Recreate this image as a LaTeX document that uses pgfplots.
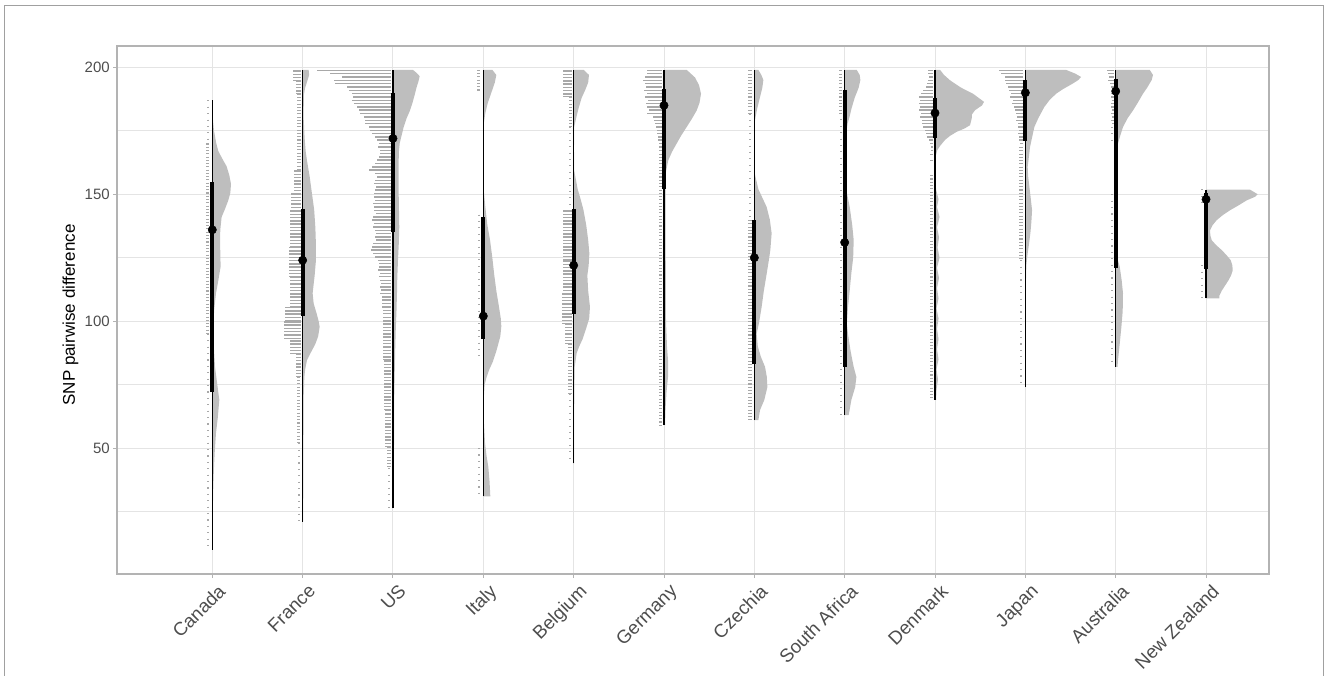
\documentclass[border=0pt]{standalone}
\usepackage{fontspec}
\setmainfont{Liberation Sans}
\usepackage{pgfplots}
\pgfplotsset{compat=1.18}
\usepackage{pgfplotstable}

\definecolor{vcol}{HTML}{BEBEBE}
\definecolor{dotcol}{HTML}{A8A8A8}
\definecolor{gridcol}{HTML}{E4E4E4}
\definecolor{bordercol}{HTML}{B3B3B3}
\definecolor{txtcol}{HTML}{4D4D4D}
\definecolor{framecol}{HTML}{A0A0A0}

\tikzset{dotdense/.style={dash pattern=on 1.1pt off 1.35pt},
         dotmed/.style={dash pattern=on 0.8pt off 1.65pt},
         dotsparse/.style={dash pattern=on 0.8pt off 4pt}}

% violin: y, half-width in px
\newcommand{\violin}[2]{\addplot[fill=vcol, draw=none, forget plot] table[x expr={#1+\thisrow{w}/90.34}, y=y] {#2};}
% dot lines: y, left end in px
\newcommand{\dotlines}[2]{\addplot[dotcol, line width=1.1pt, no marks, forget plot, quiver={u={-(\thisrow{b}-2)/90.34}, v=0}] table[x expr={#1-2/90.34}, y=y] {#2};}
% band of dots: pos, ytop, ybot, a(px), b(px), style
\newcommand{\band}[6]{\addplot[dotcol, no marks, forget plot, line width={(#5-#4)*0.75pt}, #6] table[x expr={#1-(#4+#5)/180.68}, y=y, row sep=\\] {y\\ #2\\ #3\\};}
% interval: pos, min, lo, med, hi, max
\newcommand{\interval}[6]{%
\addplot[black, line width=1pt, no marks, forget plot] coordinates {(#1,#2) (#1,#6)};
\addplot[black, line width=3pt, no marks, forget plot] coordinates {(#1,#3) (#1,#5)};
\addplot[black, only marks, mark=*, mark size=3.1pt, forget plot] coordinates {(#1,#4)};}

% ---------------- violins (y, width px) ----------------
\pgfplotstableread[row sep=\\]{y w\\
187 0\\ 180 0.5\\ 175 1.7\\ 170 4\\ 167 6\\ 164 10\\ 161 14.3\\ 157.5 17\\ 154 18.7\\ 150.5 18\\ 147.6 16\\ 144 12.5\\ 141 9.3\\ 136 8\\ 132 7.7\\ 127 8\\ 121.4 8.3\\ 116 6\\ 111 3.7\\ 105 2\\ 99 1\\ 90 1.5\\ 82 2.7\\ 75 5\\ 69 7\\ 62 5.5\\ 56 3.7\\ 49 2.5\\ 42.6 1.7\\ 35 1\\ 29.5 0.7\\ 20 0.3\\ 10 0\\
}\vCanada
\pgfplotstableread[row sep=\\]{y w\\
199 0\\ 199 6\\ 197 6.5\\ 195 5\\ 192 2.5\\ 189 1.2\\ 180 1\\ 172 2\\ 167 3\\ 163.4 4.3\\ 157 7\\ 150.3 9.3\\ 144 11.5\\ 137 12.7\\ 130 13.3\\ 124 13.3\\ 118 12\\ 111 10\\ 107 11\\ 103 14\\ 100 16\\ 97.8 17\\ 94 15.5\\ 91 12.7\\ 87.5 8\\ 84.6 4.3\\ 81 2.5\\ 78 1.7\\ 70 1\\ 50 0.8\\ 30 0.6\\ 21 0.5\\ 21 0\\
}\vFrance
\pgfplotstableread[row sep=\\]{y w\\
199 0\\ 199 20\\ 198 23\\ 196.5 26.7\\ 194.5 25.5\\ 192 23.5\\ 189.6 22\\ 186 19.5\\ 183 17\\ 179.8 13.5\\ 176.5 10.7\\ 173 8.5\\ 170 6.7\\ 167 6\\ 163.4 5.7\\ 157 5.7\\ 150.3 5.7\\ 143.7 6\\ 137 6.3\\ 130.5 5.8\\ 124 5\\ 117 4.3\\ 111 4\\ 104 3.5\\ 97 2.8\\ 90 2.3\\ 84.6 2\\ 70 1.2\\ 50 1\\ 35 0.8\\ 26.4 0.6\\ 26.4 0\\
}\vUS
\pgfplotstableread[row sep=\\]{y w\\
199 0\\ 199 9\\ 197 13\\ 194 11.5\\ 190 8\\ 186 4.5\\ 182 2\\ 178 0.5\\ 170 0.2\\ 152 0.3\\ 145 2\\ 138 4\\ 132 6.7\\ 125 9\\ 118 11\\ 112 13\\ 106 15.5\\ 101 17.5\\ 98 18\\ 94 17\\ 88.6 13.3\\ 84 9.5\\ 81 6\\ 78 3.3\\ 75 1.3\\ 70 0.5\\ 60 0.6\\ 52 1.7\\ 47 3.2\\ 42.6 5\\ 37 6.2\\ 31 7\\ 31 0\\
}\vItaly
\pgfplotstableread[row sep=\\]{y w\\
199 0\\ 199 10\\ 197 15.3\\ 194 14.5\\ 191 11.5\\ 188 8\\ 184 5\\ 180 2.5\\ 176.5 0.5\\ 168 0.3\\ 159.4 0.5\\ 152 4\\ 148 7\\ 144 9.7\\ 138 12.5\\ 132 14.5\\ 126.7 15.7\\ 122 15\\ 118 13.7\\ 112 14.5\\ 105.6 16.3\\ 101 15.5\\ 97.8 13\\ 93 9\\ 90 5.5\\ 87.4 3\\ 82 1\\ 70 0.6\\ 55 0.5\\ 44 0.4\\ 44 0\\
}\vBelgium
\pgfplotstableread[row sep=\\]{y w\\
199 0\\ 199 22.7\\ 196 31\\ 193 35\\ 189.6 37\\ 186 35.5\\ 183 32.7\\ 179.8 28\\ 176.5 22.7\\ 173 17\\ 170 12.7\\ 166.7 8\\ 163.4 4.3\\ 159 2\\ 155 1.5\\ 140 1.5\\ 120 1.8\\ 100 2\\ 90 3\\ 84.6 4\\ 78 4\\ 72 2.5\\ 65 1.5\\ 59 1\\ 59 0\\
}\vGermany
\pgfplotstableread[row sep=\\]{y w\\
199 0\\ 199 4\\ 197 7\\ 195 9\\ 192 8\\ 188 5.5\\ 184 3\\ 180 1\\ 178 0.3\\ 165 0.2\\ 158 0.5\\ 152 4\\ 145 12.3\\ 140 15.5\\ 134.6 17.3\\ 128 16\\ 124 14.5\\ 118.6 12.3\\ 112 9.5\\ 105.6 7.3\\ 99 4.5\\ 95 2.3\\ 90 3.5\\ 86 6.5\\ 82 10.7\\ 78 12.5\\ 74 13\\ 69 10\\ 65 5.7\\ 61 4\\ 61 0\\
}\vCzechia
\pgfplotstableread[row sep=\\]{y w\\
199 0\\ 199 12\\ 197 15\\ 195 15.7\\ 192 14\\ 188 10\\ 184 7\\ 180 4.5\\ 178 3\\ 174 1.5\\ 171 0.5\\ 160 0.3\\ 152 1.5\\ 145 5\\ 138 7.5\\ 132 9\\ 125 8.5\\ 119 6.7\\ 112 5\\ 105.6 3.3\\ 99 2.2\\ 95 3.3\\ 88 6\\ 82 9\\ 78 11.7\\ 74 10.5\\ 69 6.7\\ 63 4\\ 63 0\\
}\vSouthAfrica
\pgfplotstableread[row sep=\\]{y w\\
199 0\\ 199 5\\ 197 9\\ 194.9 15\\ 192 26\\ 189.6 38\\ 186.4 49\\ 185 47\\ 183.1 40\\ 181.5 37\\ 179.8 36.7\\ 177.2 35\\ 176 30\\ 174.6 21.7\\ 173 15\\ 171.4 10\\ 169 5\\ 167.4 2.3\\ 164.8 0.5\\ 160 0.3\\ 152 1\\ 148 3.5\\ 145 2\\ 141 4.5\\ 137 2\\ 133 4\\ 129 2.5\\ 125 4.5\\ 121 2\\ 117 4\\ 113 2\\ 109 3.5\\ 105 1.5\\ 101 3.5\\ 97 2\\ 93 3.5\\ 89 2\\ 85 3.5\\ 81 1.5\\ 77 3\\ 73 1.5\\ 69 1\\ 69 0\\
}\vDenmark
\pgfplotstableread[row sep=\\]{y w\\
199 0\\ 199 40.7\\ 197.5 50\\ 196.2 55.7\\ 195 53\\ 193.5 47\\ 191.5 38\\ 189.6 30.7\\ 187 24\\ 184.4 19\\ 180 13\\ 176.5 9\\ 172 6.5\\ 168.7 4.7\\ 164 3.3\\ 160.8 2.3\\ 157 2.8\\ 153 4\\ 148 5.5\\ 143.7 6.7\\ 139 6\\ 134.6 5\\ 130 3.5\\ 126.7 2.3\\ 122 1\\ 115 0.5\\ 100 0.4\\ 85 0.3\\ 74 0.3\\ 74 0\\
}\vJapan
\pgfplotstableread[row sep=\\]{y w\\
199 0\\ 199 34\\ 197 37.3\\ 195 36\\ 192 31.5\\ 189.6 27.3\\ 186 22\\ 183 17.3\\ 180 12\\ 176.5 7.3\\ 173 4.5\\ 170 2.3\\ 166 0.8\\ 163.4 0.3\\ 130 0.3\\ 125 1.5\\ 121.5 4\\ 116 6\\ 111 7.3\\ 104 7\\ 97.8 5.7\\ 91 4\\ 84.6 2.3\\ 82 1.8\\ 82 0\\
}\vAustralia
\pgfplotstableread[row sep=\\]{y w\\
151.8 0\\ 151.8 44\\ 150 51.7\\ 149 49\\ 147.6 40.7\\ 145.5 32\\ 143.7 24\\ 141.7 16.5\\ 139.8 10.7\\ 137.8 6.5\\ 135.8 4\\ 133.8 4.3\\ 131.9 5.7\\ 130 10\\ 128 15.7\\ 126 20.5\\ 124 24.7\\ 122 26.3\\ 120 26.7\\ 118 25\\ 116 22.3\\ 114 19\\ 112 15.7\\ 110 13.3\\ 109 13.3\\ 109 0\\
}\vNewZealand

% ---------------- dot lines (y, left end px) ----------------
\pgfplotstableread[row sep=\\]{y b\\
198.8 76\\ 197.5 62.7\\ 196.2 51\\ 194.9 59.3\\ 193.6 57.7\\ 192.3 46\\ 190.9 44.3\\ 189.6 41\\ 188.3 40\\ 187.0 41\\
185.7 39.3\\ 184.4 36\\ 183.1 34.3\\ 181.8 32.7\\ 180.4 29.3\\ 179.1 27.7\\ 177.8 27.7\\ 176.5 24.3\\ 175.2 23.3\\ 173.9 21\\
172.6 17.7\\ 171.3 16\\ 169.9 14.3\\ 168.6 15.3\\ 167.3 12.7\\ 166.0 12.7\\ 164.7 14.3\\ 163.4 16\\ 162.1 17.7\\ 160.8 21\\
159.5 24.3\\ 158.1 17.7\\ 156.8 16\\ 155.5 17.7\\ 154.2 18.7\\ 152.9 16.7\\ 151.6 17.7\\ 150.3 18.7\\ 149.0 19.3\\ 147.6 18\\
146.3 20\\ 145.0 18.7\\ 143.7 19.3\\ 142.4 17.3\\ 141.1 20\\ 139.8 21\\ 138.5 19.3\\ 137.1 20\\ 135.8 17.7\\ 134.5 16.7\\
133.2 18\\ 131.9 17.3\\ 130.6 20\\ 129.3 21\\ 128.0 22\\ 126.6 20\\ 125.3 17.7\\ 124.0 15.3\\ 122.7 14.3\\ 121.4 14\\
120.1 14.7\\ 118.8 13.3\\ 117.5 14\\ 116.1 12.7\\ 114.8 12\\ 113.5 13.3\\ 112.2 12\\ 110.9 12.7\\ 109.6 11\\ 108.3 11.3\\
107.0 10.7\\ 105.6 11\\ 104.3 10\\ 103.0 10.3\\
}\dUS
\pgfplotstableread[row sep=\\]{y b\\
198.8 17.3\\ 197.5 16.7\\ 196.2 19\\ 194.9 20.7\\ 193.6 19\\ 192.3 18\\ 190.9 20\\ 189.6 17.3\\ 188.3 19\\ 187.0 15.7\\
185.7 18\\ 184.4 16.7\\ 183.1 14.7\\ 181.8 16.7\\ 180.4 11.3\\ 179.1 10\\ 177.8 9\\ 176.5 8\\ 175.2 7.3\\ 173.9 7.3\\
172.6 5.7\\ 171.3 6\\ 169.9 5.3\\ 168.6 4.7\\ 167.3 4.7\\
}\dGermany
\pgfplotstableread[row sep=\\]{y b\\
198.8 6.7\\ 197.5 7.3\\ 196.2 5.7\\ 194.9 6.7\\ 193.6 8.3\\ 192.3 9\\ 190.9 12.3\\ 189.6 14.3\\ 188.3 15.7\\ 187.0 15\\
185.7 16.3\\ 184.4 15\\ 183.1 15.7\\ 181.8 14.3\\ 180.4 15\\ 179.1 13.3\\ 177.8 13\\ 176.5 11.7\\ 175.2 9.7\\ 173.9 9\\
172.6 7.7\\ 171.3 6\\ 169.9 5\\ 168.6 4.3\\ 167.3 4\\
}\dDenmark
\pgfplotstableread[row sep=\\]{y b\\
198.8 26\\ 197.5 24.3\\ 196.2 20\\ 194.9 20\\ 193.6 19.3\\ 192.3 17.7\\ 190.9 16\\ 189.6 14.3\\ 188.3 15.3\\ 187.0 12.7\\
185.7 13.3\\ 184.4 11\\ 183.1 10\\ 181.8 9.3\\ 180.4 8.7\\ 179.1 9.3\\ 177.8 7.7\\ 176.5 7.7\\ 175.2 6.7\\ 173.9 7.3\\
172.6 6\\ 171.3 6\\ 169.9 5.3\\
}\dJapan
\pgfplotstableread[row sep=\\]{y b\\
198.8 8.7\\ 197.5 7.7\\ 196.2 6.7\\ 194.9 7.7\\ 193.6 6\\ 192.3 4.5\\ 190.9 4.2\\ 189.6 4.5\\ 188.3 4.3\\ 187.0 4\\
185.7 4.4\\ 184.4 4.3\\ 183.1 4.1\\ 181.8 4.5\\ 180.4 4.2\\ 179.1 4.3\\ 177.8 4\\
}\dAustralia

\begin{document}
\begin{tikzpicture}
\useasboundingbox (0,0) rectangle (996pt,506.25pt);
\draw[framecol, line width=0.75pt] (3pt,-20pt) rectangle (992.25pt,501.75pt);
\begin{axis}[
  scale only axis, width=864pt, height=396pt,
  at={(87.75pt,75.75pt)}, anchor=south west,
  xmin=-0.055, xmax=12.697, ymin=0.4, ymax=208.4,
  xtick={1,2,3,4,5,6,7,8,9,10,11,12},
  xticklabels={Canada,France,US,Italy,Belgium,Germany,Czechia,South Africa,Denmark,Japan,Australia,New Zealand},
  ytick={50,100,150,200}, minor ytick={25,75,125,175},
  grid=both,
  major grid style={gridcol, line width=0.75pt},
  minor grid style={gridcol, line width=0.45pt},
  axis line style={bordercol, line width=0.8pt},
  tick align=outside, tick pos=left,
  major tick length=3pt, minor tick length=0pt,
  tick style={bordercol, line width=0.75pt},
  /pgf/number format/assume math mode=true,
  xticklabel style={font=\fontsize{14}{16}\selectfont, text=txtcol, rotate=45, anchor=north east, inner sep=0pt, yshift=-5pt},
  yticklabel style={font=\fontsize{11.25}{13}\selectfont, text=txtcol, inner sep=0pt, xshift=-2.25pt},
  ylabel={SNP pairwise difference},
  ylabel style={font=\fontsize{12.75}{14}\selectfont, at={(axis description cs:-0.0404,0.4905)}, anchor=center},
]
% Canada
\violin{1}{\vCanada}
\band{1}{187}{170}{3}{5}{dotsparse}
\band{1}{170}{95}{3}{6}{dotmed}
\band{1}{95}{10}{3}{5}{dotsparse}
\interval{1}{10}{72}{136}{155}{187}
% France
\violin{2}{\vFrance}
\band{2}{198.8}{194.9}{2}{9.7}{dotdense}
\band{2}{194.9}{189.6}{2}{7}{dotdense}
\band{2}{189.6}{159.4}{2}{5.7}{dotmed}
\band{2}{159.4}{150.3}{2}{9}{dotdense}
\band{2}{150.3}{143.7}{2}{11.7}{dotdense}
\band{2}{143.7}{129.3}{2}{13}{dotdense}
\band{2}{129.3}{117.5}{2}{14}{dotdense}
\band{2}{117.5}{105.6}{2}{12.3}{dotdense}
\band{2}{105.6}{100}{2}{17.3}{dotdense}
\band{2}{100}{92.5}{2}{18.3}{dotdense}
\band{2}{92.5}{87.3}{2}{12.3}{dotdense}
\band{2}{87.3}{78.1}{2}{7}{dotdense}
\band{2}{78.1}{51.9}{3}{5.5}{dotmed}
\band{2}{51.9}{21}{3}{5}{dotsparse}
\interval{2}{21}{102}{124}{144}{199}
% US
\violin{3}{\vUS}
\dotlines{3}{\dUS}
\band{3}{101.7}{84.6}{2}{9.5}{dotdense}
\band{3}{84.6}{65}{2}{8.7}{dotdense}
\band{3}{65}{50.5}{2}{7.7}{dotdense}
\band{3}{50.5}{42.6}{2}{6}{dotmed}
\band{3}{42}{26.4}{3}{5}{dotsparse}
\interval{3}{26.4}{135}{172}{190}{199}
% Italy
\violin{4}{\vItaly}
\band{4}{199}{190}{3}{6}{dotmed}
\band{4}{142}{85}{3}{5.5}{dotsparse}
\band{4}{50}{31}{3}{5}{dotsparse}
\interval{4}{31}{93}{102}{141}{199}
% Belgium
\violin{5}{\vBelgium}
\band{5}{198.8}{188.3}{2}{11}{dotdense}
\band{5}{188.3}{176.5}{2}{5}{dotmed}
\band{5}{176.5}{145}{3}{5}{dotsparse}
\band{5}{143.7}{124}{2}{10.3}{dotdense}
\band{5}{124}{110.9}{2}{11}{dotdense}
\band{5}{110.9}{99.1}{2}{12}{dotdense}
\band{5}{99.1}{91.2}{2}{8.7}{dotdense}
\band{5}{91.2}{71.5}{2}{6}{dotmed}
\band{5}{71.5}{44}{3}{5}{dotsparse}
\interval{5}{44}{103}{122}{144}{199}
% Germany
\violin{6}{\vGermany}
\dotlines{6}{\dGermany}
\band{6}{166}{59}{2}{5.5}{dotmed}
\interval{6}{59}{152}{185}{191.6}{199}
% Czechia
\violin{7}{\vCzechia}
\band{7}{198.8}{181.8}{2}{6}{dotmed}
\band{7}{181.8}{139.8}{3}{5}{dotsparse}
\band{7}{139.8}{61}{2}{6.5}{dotmed}
\interval{7}{61}{83}{125}{140}{199}
% South Africa
\violin{8}{\vSouthAfrica}
\band{8}{198.8}{182}{3}{6}{dotmed}
\band{8}{182}{63}{3}{5}{dotsparse}
\interval{8}{63}{82}{131}{191}{199}
% Denmark
\violin{9}{\vDenmark}
\dotlines{9}{\dDenmark}
\band{9}{166}{161.5}{2}{5}{dotsparse}
\band{9}{157.5}{69}{2}{5.5}{dotmed}
\interval{9}{69}{172}{182}{188}{199}
% Japan
\violin{10}{\vJapan}
\dotlines{10}{\dJapan}
\band{10}{168.6}{124}{2}{6}{dotmed}
\band{10}{124}{74}{3}{5}{dotsparse}
\interval{10}{74}{171}{190}{195}{199}
% Australia
\violin{11}{\vAustralia}
\dotlines{11}{\dAustralia}
\band{11}{176.5}{170}{3}{5}{dotsparse}
\band{11}{150}{82}{3}{5}{dotsparse}
\interval{11}{82}{121}{190.6}{195.5}{199}
% New Zealand
\violin{12}{\vNewZealand}
\band{12}{152}{145}{3}{5}{dotsparse}
\band{12}{122}{109}{3}{5}{dotsparse}
\interval{12}{109}{120.4}{148}{150.5}{151.8}
\end{axis}
\end{tikzpicture}
\end{document}
